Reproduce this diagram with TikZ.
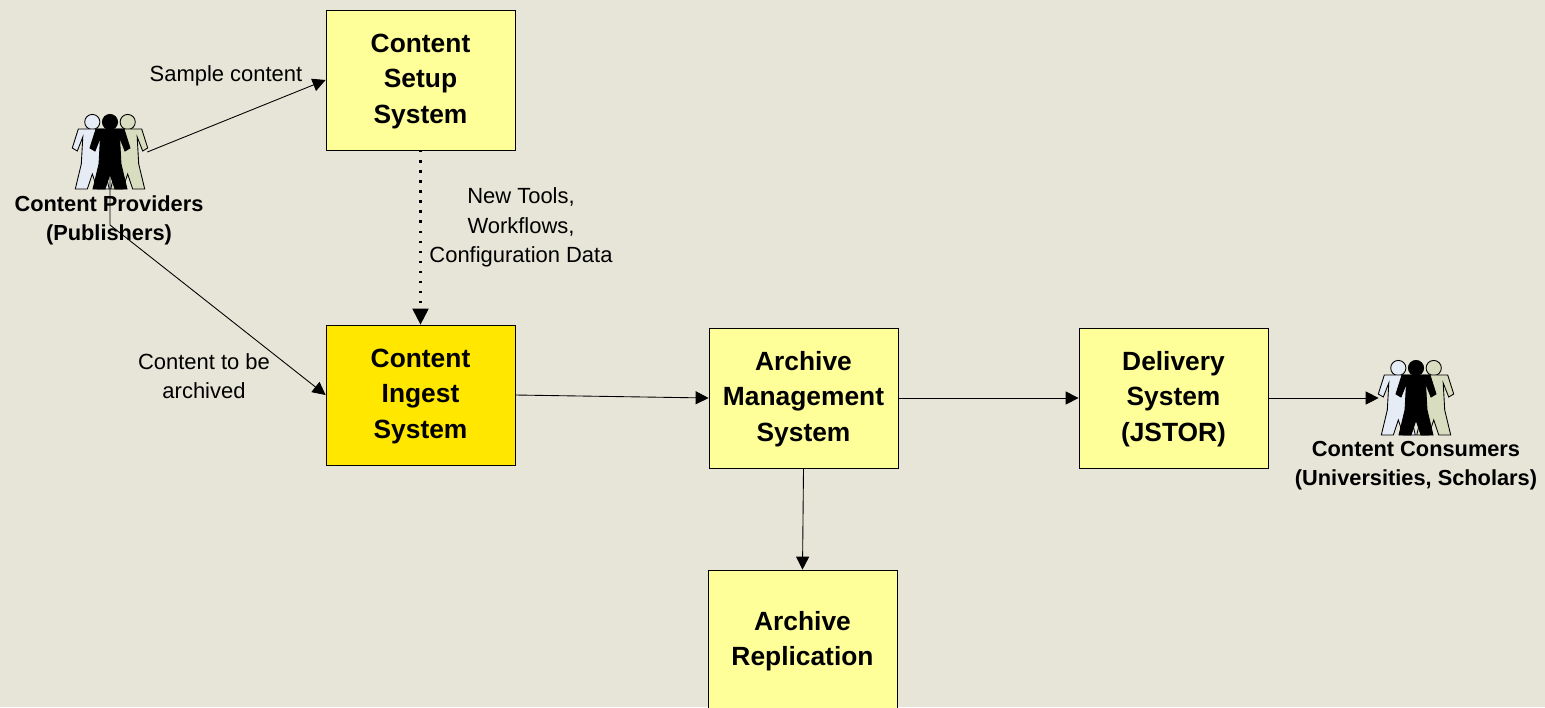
\documentclass[tikz,border=0pt]{standalone}
\usepackage{fontspec}
\setmainfont{Liberation Sans}
\usetikzlibrary{arrows.meta}
\definecolor{pagebg}{HTML}{E6E5D7}
\definecolor{boxfill}{HTML}{FFFF99}
\definecolor{ingestfill}{HTML}{FFE700}
\definecolor{leftman}{HTML}{E6ECF5}
\definecolor{rightman}{HTML}{D8DDC0}
\tikzset{
  sysbox/.style={draw,fill=boxfill,line width=0.45pt,minimum width=3.78cm,minimum height=2.8cm,align=center,font=\fontsize{15}{20}\selectfont\bfseries},
  actor/.style={minimum width=1.48cm,minimum height=1.5cm,inner sep=0pt},
  actorname/.style={align=center,font=\fontsize{12.4}{16.4}\selectfont\bfseries},
  note/.style={align=center,font=\fontsize{12.5}{16.8}\selectfont},
  link/.style={line width=0.5pt,-{Triangle[length=0.26cm,width=0.26cm]}},
  dotlink/.style={line width=1.2pt,dash pattern=on 1.2pt off 4.5pt,-{Triangle[length=0.32cm,width=0.32cm]}},
  man/.pic={
    \draw[pic actions,line width=0.5pt] (0,-30) circle (7.6);
    \draw[pic actions,line width=0.5pt] (-14,-23) -- (14,-23) -- (20,-4) -- (15,-1) -- (9.5,-15) -- (11,12) -- (17,37) -- (5,37) -- (0,22) -- (-5,37) -- (-17,37) -- (-11,12) -- (-9.5,-15) -- (-15,-1) -- (-20,-4) -- cycle;
  }
}
\newcommand{\people}[1]{
  \path (#1) ++(-17.7,0) pic[fill=leftman] {man};
  \path (#1) ++(17.7,0) pic[fill=rightman] {man};
  \path (#1) pic[fill=black] {man};
}
\newcommand{\toprow}{\rule{0pt}{12.1pt}}
\begin{document}
\begin{tikzpicture}[x=0.02cm,y=-0.02cm]
  \useasboundingbox (0,0) rectangle (1545,707);
  \fill[pagebg] (0,0) rectangle (1545,707);

  \node (setup) at (420.5,80) [sysbox] {\toprow Content\\Setup\\System};
  \node (ingest) at (420.5,395) [sysbox,fill=ingestfill] {\toprow Content\\Ingest\\System};
  \node (manage) at (803.5,398) [sysbox] {\toprow Archive\\Management\\System};
  \node (delivery) at (1173.5,398) [sysbox] {\toprow Delivery\\System\\(JSTOR)};
  \node (replica) at (802.5,640) [sysbox] {\toprow Archive\\Replication};

  \node (providers) at (110,152) [actor] {};
  \node (consumers) at (1416,398) [actor] {};
  \people{providers}
  \people{consumers}
  \coordinate (turn) at (110,225);

  \draw[link] (providers.east) -- (setup.west);
  \draw[link] (providers.center) -- (turn) -- (ingest.west);
  \draw[dotlink] (setup.south) -- (ingest.north);
  \draw[link] (ingest.east) -- (manage.west);
  \draw[link] (manage.east) -- (delivery.west);
  \draw[link] (manage.south) -- (replica.north);
  \draw[link] (delivery.east) -- (consumers.west);

  \node (providername) at (109,220) [actorname] {Content Providers\\(Publishers)};
  \node (consumername) at (1416,466) [actorname] {Content Consumers\\(Universities, Scholars)};
  \node (samplenote) at (226,76) [note] {Sample content};
  \node (toolsnote) at (521,227.5) [note] {New Tools,\\Workflows,\\Configuration Data};
  \node (archivednote) at (204,376) [note] {Content to be\\archived};
\end{tikzpicture}
\end{document}
